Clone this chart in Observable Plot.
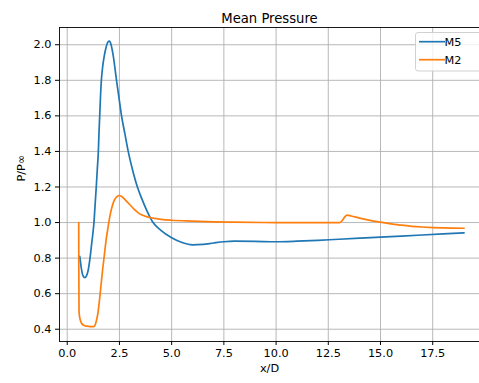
<!DOCTYPE html>
<html>
<head>
<meta charset="utf-8">
<script src="https://cdn.jsdelivr.net/npm/d3@7"></script>
<script src="https://cdn.jsdelivr.net/npm/@observablehq/plot@0.6"></script>
<style>
  html, body { margin: 0; padding: 0; background: white; }
  #chart { position: relative; width: 479px; height: 383px; }
</style>
</head>
<body>
<div id="chart"></div>
<script>
const title = "Mean Pressure";
const xLabel = "x/D";
const yLabel = "P/P∞";
const seriesNames = ["M5", "M2"];
const seriesColors = ["#1f77b4", "#ff7f0e"];
const xTicks = [0, 2.5, 5, 7.5, 10, 12.5, 15, 17.5];
const yTicks = [0.4, 0.6, 0.8, 1.0, 1.2, 1.4, 1.6, 1.8, 2.0];
const xDomain = [-0.37, 19.74];
const yDomain = [0.331, 2.097];

// M5 series
const m5X = [0.6, 0.68, 0.76, 0.84, 0.92, 1.0, 1.08, 1.16, 1.22, 1.28, 1.335, 1.39, 1.44, 1.49, 1.52, 1.555, 1.59, 1.635, 1.7, 1.77, 1.85, 1.95, 2.02, 2.1, 2.2, 2.36, 2.48, 2.6, 2.76, 2.92, 3.12, 3.36, 3.55, 3.8, 4.11, 4.5, 5.0, 5.5, 6.0, 6.5, 7.0, 7.5, 8.0, 9.0, 10.0, 11.0, 12.0, 13.0, 14.0, 15.0, 16.0, 17.0, 18.0, 19.0];
const m5Y = [0.81, 0.74, 0.70, 0.69, 0.70, 0.73, 0.79, 0.87, 0.93, 1.0, 1.1, 1.2, 1.3, 1.4, 1.5, 1.6, 1.7, 1.8, 1.88, 1.935, 1.98, 2.015, 2.02, 2.0, 1.94, 1.8, 1.7, 1.6, 1.5, 1.4, 1.3, 1.2, 1.14, 1.07, 1.0, 0.955, 0.915, 0.888, 0.875, 0.877, 0.885, 0.892, 0.895, 0.894, 0.892, 0.895, 0.900, 0.906, 0.912, 0.918, 0.924, 0.930, 0.936, 0.942];

// M2 series
const m2X = [0.55, 0.555, 0.565, 0.6, 0.66, 0.74, 0.84, 0.95, 1.1, 1.25, 1.32, 1.38, 1.47, 1.55, 1.62, 1.7, 1.78, 1.86, 1.95, 2.05, 2.15, 2.25, 2.37, 2.5, 2.62, 2.8, 3.0, 3.2, 3.45, 3.75, 4.1, 4.5, 5.0, 6.0, 7.0, 8.0, 10.0, 12.0, 13.05, 13.4, 13.6, 14.0, 14.5, 15.0, 15.5, 16.0, 16.5, 17.0, 17.5, 18.0, 19.0];
const m2Y = [1.0, 0.75, 0.5, 0.465, 0.44, 0.426, 0.42, 0.417, 0.415, 0.415, 0.42, 0.44, 0.49, 0.57, 0.65, 0.74, 0.82, 0.9, 0.97, 1.04, 1.09, 1.125, 1.145, 1.152, 1.145, 1.125, 1.1, 1.075, 1.05, 1.035, 1.025, 1.018, 1.013, 1.008, 1.004, 1.002, 1.0, 1.0, 1.0, 1.042, 1.037, 1.025, 1.012, 1.002, 0.993, 0.985, 0.979, 0.975, 0.972, 0.970, 0.968];

const m5 = m5X.map((x, i) => ({x, y: m5Y[i]}));
const m2 = m2X.map((x, i) => ({x, y: m2Y[i]}));

const fmt = d => d.toFixed(1);
const font = "DejaVu Sans";
const fs = 11.3;

const chart = Plot.plot({
  width: 479,
  height: 383,
  marginLeft: 59,
  marginRight: 0,
  marginTop: 27,
  marginBottom: 42,
  style: {fontFamily: font, fontSize: fs + "px", color: "black", background: "white", overflow: "visible"},
  x: {domain: xDomain, label: null},
  y: {domain: yDomain, label: null},
  marks: [
    Plot.gridX(xTicks, {stroke: "#b0b0b0", strokeOpacity: 1, strokeWidth: 0.9}),
    Plot.gridY(yTicks, {stroke: "#b0b0b0", strokeOpacity: 1, strokeWidth: 0.9}),
    Plot.axisX(xTicks, {tickSize: 4, tickPadding: 3, tickFormat: fmt, label: null, fontSize: fs}),
    Plot.axisY(yTicks, {tickSize: 4, tickPadding: 4, tickFormat: fmt, label: null, fontSize: fs}),
    Plot.line(m5, {x: "x", y: "y", stroke: seriesColors[0], strokeWidth: 1.7, curve: "monotone-x"}),
    Plot.line(m2, {x: "x", y: "y", stroke: seriesColors[1], strokeWidth: 1.7, curve: "monotone-x"}),
    Plot.ruleX([xDomain[0]], {stroke: "black", strokeWidth: 0.9}),
    Plot.ruleY([yDomain[0], yDomain[1]], {stroke: "black", strokeWidth: 0.9}),
    Plot.text([title], {text: d => d, frameAnchor: "top", dy: -13.5, fontSize: 13.2, fill: "black"}),
    Plot.text([xLabel], {text: d => d, frameAnchor: "bottom", dy: 30, fontSize: fs, fill: "black"}),
    Plot.text([yLabel], {text: d => d, frameAnchor: "left", dx: -38, dy: -3, rotate: -90, fontSize: fs, fill: "black"})
  ]
});

document.getElementById("chart").appendChild(chart);

// Legend (matplotlib-style, upper right inside the axes)
const svg = d3.select(chart);
const lg = svg.append("g").attr("font-family", font).attr("font-size", fs);
lg.append("rect")
  .attr("x", 415.5).attr("y", 32.5).attr("width", 70).attr("height", 38.5)
  .attr("rx", 2.5).attr("fill", "white").attr("fill-opacity", 0.8)
  .attr("stroke", "#cccccc").attr("stroke-width", 0.9);
seriesNames.forEach((name, i) => {
  const yy = 41.7 + i * 18;
  lg.append("line").attr("x1", 419).attr("x2", 445).attr("y1", yy).attr("y2", yy)
    .attr("stroke", seriesColors[i]).attr("stroke-width", 1.7);
  lg.append("text").attr("x", 453).attr("y", yy).attr("dy", "0.35em")
    .attr("fill", "black").text(name);
});
</script>
</body>
</html>
